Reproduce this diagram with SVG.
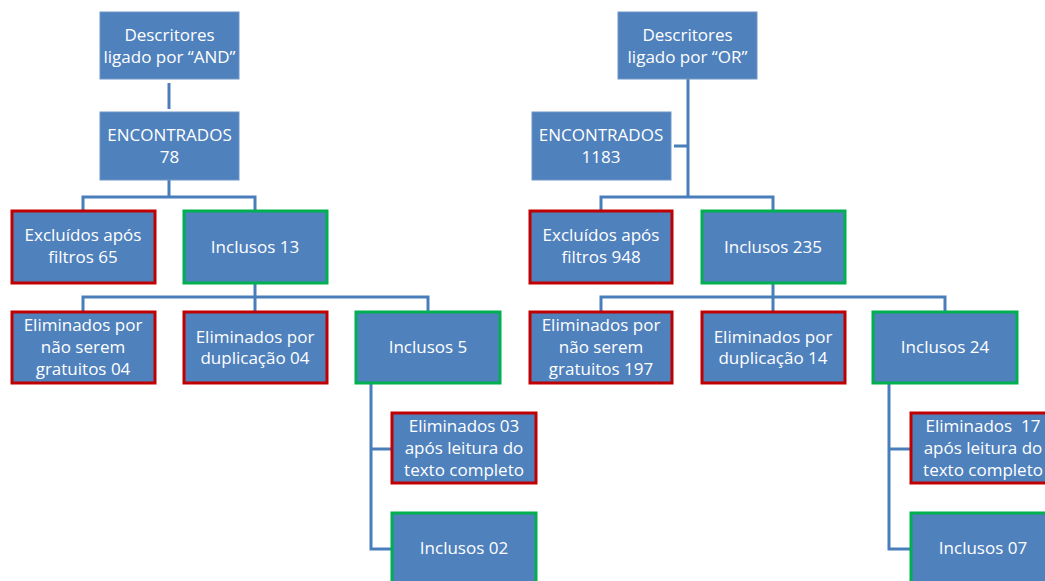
<svg xmlns="http://www.w3.org/2000/svg" width="1045" height="581" viewBox="0 0 1045 581">
<style>
.b{fill:#4F81BD;stroke:#6F97C8;stroke-width:1}
.r{fill:#4F81BD;stroke:#C00000;stroke-width:3}
.g{fill:#4F81BD;stroke:#00B050;stroke-width:3}
.t{fill:#fff;font-family:"Open Sans","Liberation Sans",Arial,sans-serif;font-size:17px;text-anchor:middle}
.c{fill:none;stroke:#4A7EBB;stroke-width:3}
</style>
<rect width="1045" height="581" fill="#fff"/>
<g id="connectors">
<path class="c" d="M169 83V109"/>
<path class="c" d="M169 180V197M83 211V197H255V211"/>
<path class="c" d="M255 283V297M83 312V297H428V312M255 297V312"/>
<path class="c" d="M371 383V549H392M371 449H392"/>
<path class="c" d="M688 79V197M674 146H688M601 211V197H773V211"/>
<path class="c" d="M773 283V297M601 312V297H945V312M773 297V312"/>
<path class="c" d="M889 383V549H911M889 449H911"/>
</g>
<g id="n1"><rect class="b" x="100" y="12" width="139" height="67"/><text class="t" x="169.5" y="41">Descritores</text><text class="t" x="169.5" y="63">ligado por “AND”</text></g>
<g id="n2"><rect class="b" x="100" y="112" width="139" height="68"/><text class="t" x="169.5" y="141">ENCONTRADOS</text><text class="t" x="169.5" y="163">78</text></g>
<g id="n3"><rect class="r" x="12" y="211" width="143" height="72"/><text class="t" x="83" y="241">Excluídos após</text><text class="t" x="83" y="263">filtros 65</text></g>
<g id="n4"><rect class="g" x="184" y="211" width="143" height="72"/><text class="t" x="255" y="253">Inclusos 13</text></g>
<g id="n5"><rect class="r" x="12" y="312" width="143" height="71"/><text class="t" x="83" y="331">Eliminados por</text><text class="t" x="83" y="353">não serem</text><text class="t" x="83" y="375">gratuitos 04</text></g>
<g id="n6"><rect class="r" x="184" y="312" width="143" height="71"/><text class="t" x="255" y="343">Eliminados por</text><text class="t" x="255" y="364">duplicação 04</text></g>
<g id="n7"><rect class="g" x="356" y="312" width="144" height="71"/><text class="t" x="428" y="353">Inclusos 5</text></g>
<g id="n8"><rect class="r" x="392" y="413" width="144" height="70"/><text class="t" x="464" y="432">Eliminados 03</text><text class="t" x="464" y="454">após leitura do</text><text class="t" x="464" y="476">texto completo</text></g>
<g id="n9"><rect class="g" x="392" y="513" width="144" height="75"/><text class="t" x="464" y="554">Inclusos 02</text></g>
<g id="m1"><rect class="b" x="618" y="12" width="139" height="67"/><text class="t" x="687.5" y="41">Descritores</text><text class="t" x="687.5" y="63">ligado por “OR”</text></g>
<g id="m2"><rect class="b" x="532" y="112" width="139" height="68"/><text class="t" x="601" y="141">ENCONTRADOS</text><text class="t" x="601" y="163">1183</text></g>
<g id="m3"><rect class="r" x="530" y="211" width="142" height="72"/><text class="t" x="601" y="241">Excluídos após</text><text class="t" x="601" y="263">filtros 948</text></g>
<g id="m4"><rect class="g" x="702" y="211" width="143" height="72"/><text class="t" x="773" y="253">Inclusos 235</text></g>
<g id="m5"><rect class="r" x="530" y="312" width="142" height="71"/><text class="t" x="601" y="331">Eliminados por</text><text class="t" x="601" y="353">não serem</text><text class="t" x="601" y="375">gratuitos 197</text></g>
<g id="m6"><rect class="r" x="702" y="312" width="143" height="71"/><text class="t" x="773" y="343">Eliminados por</text><text class="t" x="773" y="364">duplicação 14</text></g>
<g id="m7"><rect class="g" x="873" y="312" width="144" height="71"/><text class="t" x="945" y="353">Inclusos 24</text></g>
<g id="m8"><rect class="r" x="911" y="413" width="144" height="70"/><text class="t" x="983" y="432" xml:space="preserve">Eliminados  17</text><text class="t" x="983" y="454">após leitura do</text><text class="t" x="983" y="476">texto completo</text></g>
<g id="m9"><rect class="g" x="911" y="513" width="144" height="75"/><text class="t" x="983" y="554">Inclusos 07</text></g>
</svg>
